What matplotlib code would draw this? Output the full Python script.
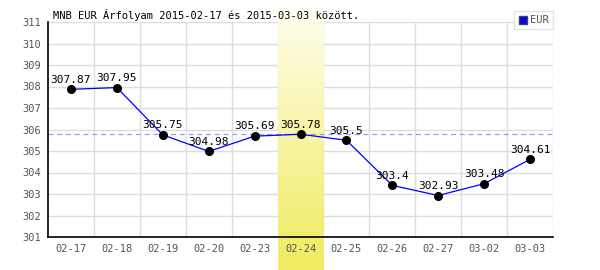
import matplotlib
matplotlib.use("Agg")
import matplotlib.pyplot as plt
import numpy as np
from matplotlib.lines import Line2D

dates = ["02-17", "02-18", "02-19", "02-20", "02-23", "02-24", "02-25", "02-26", "02-27", "03-02", "03-03"]
values = [307.87, 307.95, 305.75, 304.98, 305.69, 305.78, 305.5, 303.4, 302.93, 303.48, 304.61]
labels = ["307.87", "307.95", "305.75", "304.98", "305.69", "305.78", "305.5", "303.4", "302.93", "303.48", "304.61"]
highlight_idx = 5
title = "MNB EUR Árfolyam 2015-02-17 és 2015-03-03 között."
series_name = "EUR"

mono = "DejaVu Sans Mono"
fig = plt.figure(figsize=(6, 2.7), dpi=100)
ax = fig.add_axes([48/600, 1-237/270, 505/600, 215/270])
ax.set_facecolor("none")
fig.patch.set_facecolor("white")

n = len(dates)
x = np.arange(n)
ax.set_xlim(-0.5, n-0.5)
ax.set_ylim(301, 311)

# grid
for k in range(1, n+1):
    ax.axvline(k-0.5, color="#dddddd", lw=1, zorder=0.5)
for v in range(301, 312):
    ax.axhline(v, color="#dddddd", lw=1, zorder=0.5)

# highlight band gradient
ypp = 10/215
grad = np.linspace(0, 1, 256).reshape(-1, 1)
top = np.array([255, 255, 242]) / 255
bot = np.array([240, 235, 95]) / 255
img = top + (bot - top) * grad[..., None] ** 0.9
img = img.reshape(256, 1, 3)
ax.imshow(img, extent=(highlight_idx-0.5, highlight_idx+0.5, 301-33*ypp, 311+12*ypp),
          aspect="auto", origin="upper", zorder=1, clip_on=False)
ax.set_xlim(-0.5, n-0.5)
ax.set_ylim(301, 311)

# reference line
ax.axhline(values[highlight_idx], color="#9999ff", lw=0.9, ls=(0, (4, 3)), zorder=2)

ax.plot(x, values, color="#0000ff", lw=0.9, zorder=3)
ax.plot(x, values, "o", color="black", ms=5.5, zorder=4)
for xi, v, t in zip(x, values, labels):
    ax.text(xi, v + 0.22, t, ha="center", va="bottom", fontsize=8, family=mono, color="black", zorder=5)

for s in ["top", "right"]:
    ax.spines[s].set_visible(False)
ax.spines["left"].set_linewidth(1.2)
ax.spines["bottom"].set_linewidth(1.2)
ax.spines["left"].set_zorder(6)
ax.spines["bottom"].set_zorder(6)

ax.set_xticks(x)
ax.set_xticklabels(dates, family=mono, fontsize=7.5, color="#555555")
ax.set_yticks(range(301, 312))
ax.set_yticklabels([str(v) for v in range(301, 312)], family=mono, fontsize=7.5, color="#555555")
ax.tick_params(axis="both", length=0, pad=5)

fig.text(53/600, 1-15/270, title, family=mono, fontsize=7.5, color="black", va="center", ha="left")

handle = Line2D([], [], marker="s", ls="none", markerfacecolor="#0000ff", markeredgecolor="#444444", ms=6)
leg = fig.legend([handle], [series_name], loc="upper right", bbox_to_anchor=(553/600, 1-11/270),
                 prop={"family": mono, "size": 7.5}, frameon=True, fancybox=False,
                 handlelength=0.8, handletextpad=0.3, borderpad=0.4, borderaxespad=0)
leg.get_frame().set_edgecolor("#dddddd")
leg.get_frame().set_linewidth(1)
for t in leg.get_texts():
    t.set_color("#555555")

fig.savefig("out.png", dpi=100)
